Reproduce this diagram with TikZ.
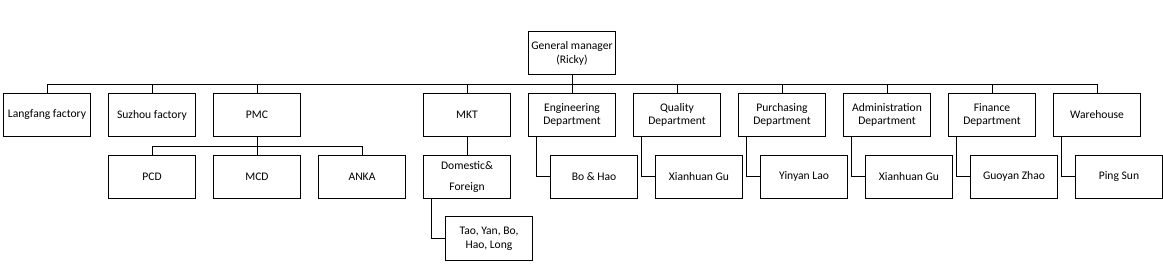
\documentclass[tikz,border=0pt]{standalone}
\usepackage{fontspec}
\setmainfont{Carlito}
\usepackage{tikz}
\usetikzlibrary{positioning,calc}

\begin{document}
\begin{tikzpicture}[x=0.75pt,y=-0.75pt,
  orgbox/.style={draw=black,line width=0.75pt,fill=white,minimum width=65.5pt,minimum height=32.6pt,inner sep=1pt,align=center,font=\fontsize{8.7pt}{10.3pt}\selectfont},
  link/.style={draw=black,line width=0.75pt}]
\useasboundingbox (0,0) rectangle (1163,271);
\node[orgbox] (gm) at (572,53.2) {General manager\\(Ricky)};
\node[orgbox] (langfang) at (47,115) {Langfang factory};
\node[orgbox] (suzhou) at (152,115) {Suzhou factory};
\node[orgbox] (pmc) at (257,115) {PMC};
\node[orgbox] (mkt) at (467,115) {MKT};
\node[orgbox] (eng) at (572,115) {Engineering\\Department};
\node[orgbox] (qual) at (677,115) {Quality\\Department};
\node[orgbox] (purch) at (782,115) {Purchasing\\Department};
\node[orgbox] (admin) at (887,115) {Administration\\Department};
\node[orgbox] (fin) at (992,115) {Finance\\Department};
\node[orgbox] (ware) at (1097,115) {Warehouse};
\node[orgbox] (pcd) at (152,176.8) {PCD};
\node[orgbox] (mcd) at (257,176.8) {MCD};
\node[orgbox] (anka) at (362,176.8) {ANKA};
\node[orgbox] (dom) at (467,176.8) {Domestic\&\\[5pt]Foreign};
\node[orgbox] (tao) at (489,238.5) {Tao, Yan, Bo,\\Hao, Long};
\node[orgbox] (bohao) at (594,176.8) {Bo \& Hao};
\node[orgbox] (xgu) at (699,176.8) {Xianhuan Gu};
\node[orgbox] (ylao) at (804,176.8) {Yinyan Lao};
\node[orgbox] (xgu2) at (909,176.8) {Xianhuan Gu};
\node[orgbox] (gzhao) at (1014,176.8) {Guoyan Zhao};
\node[orgbox] (psun) at (1119,176.8) {Ping Sun};
% top level bus
\coordinate (bus) at (572,84.3);
\draw[link] (gm.south) -- (bus);
\foreach \n in {langfang,suzhou,pmc,mkt,eng,qual,purch,admin,fin,ware}
  \draw[link] (bus) -| (\n.north);
% PMC groups
\coordinate (pmcbus) at (257,146.7);
\draw[link] (pmc.south) -- (pmcbus);
\foreach \n in {pcd,mcd,anka}
  \draw[link] (pmcbus) -| (\n.north);
% MKT
\draw[link] (mkt.south) -- (dom.north);
\draw[link] ([xshift=6.75pt]dom.south west) |- (tao.west);
% staff of each department
\foreach \d/\s in {eng/bohao,qual/xgu,purch/ylao,admin/xgu2,fin/gzhao,ware/psun}
  \draw[link] ([xshift=6.75pt]\d.south west) |- (\s.west);
\end{tikzpicture}
\end{document}
